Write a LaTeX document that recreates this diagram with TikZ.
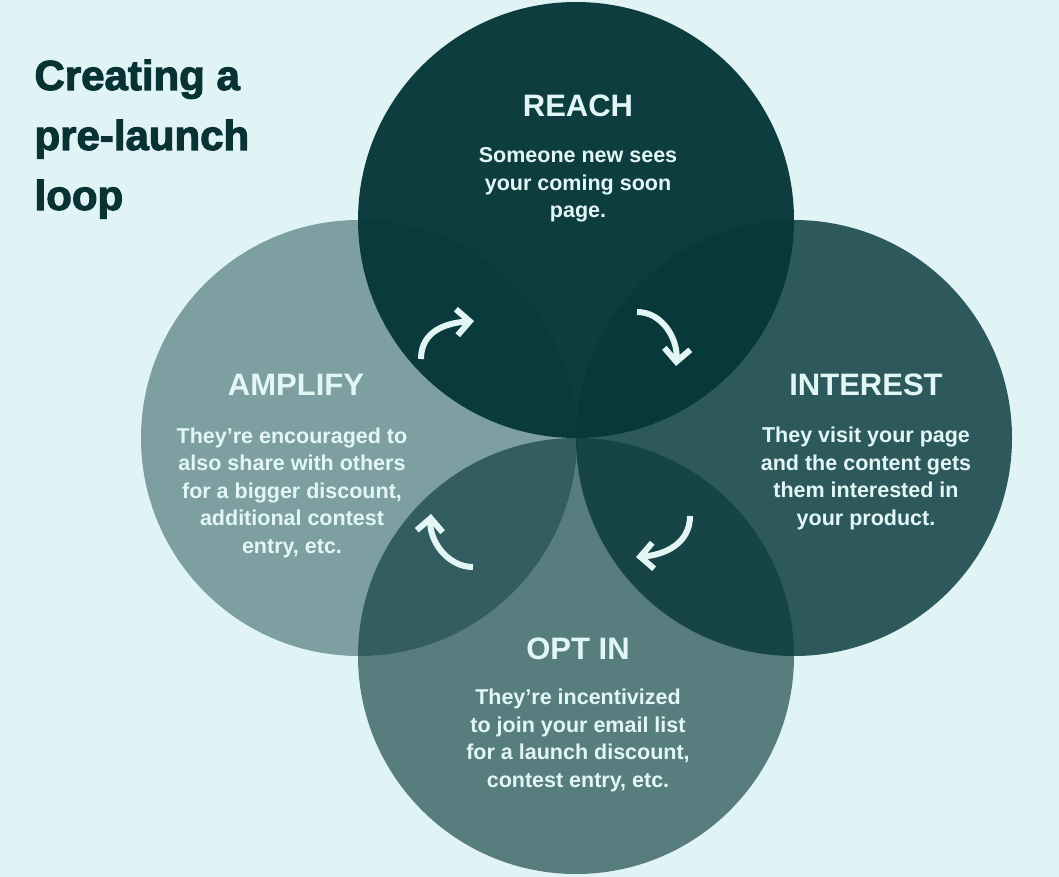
\documentclass[tikz,border=0pt]{standalone}
\usepackage{fontspec}
\setmainfont{Liberation Sans}
\usetikzlibrary{arrows.meta}
\definecolor{loopbg}{HTML}{E0F4F6}
\definecolor{loopteal}{HTML}{08383B}
\definecolor{looptext}{HTML}{E3F6F6}
\definecolor{looptitle}{HTML}{093235}

\begin{document}
\begin{tikzpicture}[
  x=1pt, y=-1pt,
  >={Straight Barb[length=13pt,width=26pt]},
  disc/.style={circle, minimum size=436pt, inner sep=0pt, fill=loopteal, draw=none},
  headline/.style={anchor=base west, align=left, text=looptitle, font=\fontsize{42}{60}\selectfont\bfseries\addfontfeature{FakeBold=2.5}},
  phase/.style={anchor=base, text=looptext, font=\fontsize{31}{36}\selectfont\bfseries},
  blurb/.style={anchor=base, align=center, text=looptext, font=\fontsize{21.5}{27.5}\selectfont\bfseries},
  turn/.style={->, draw=looptext, line width=6pt}
]
  \fill[loopbg] (0,0) rectangle (1059,877);
  \useasboundingbox (0,0) rectangle (1059,877);

  % the four stages
  \node[disc, fill opacity=0.97] (reach) at (576,220) {};
  \node[disc, fill opacity=0.82] (interest) at (794,438) {};
  \node[disc, fill opacity=0.63] (optin) at (576,656) {};
  \node[disc, fill opacity=0.45] (amplify) at (359,438) {};

  % base = last line
  \node[headline] (title) at (31,210) {Creating a\\pre-launch\\loop};

  \node[phase] (reachhead) at (578,117) {REACH};
  \node[blurb] (reachtext) at (578,218) {Someone new sees\\your coming soon\\page.};
  \node[phase] (interesthead) at (866,395) {INTEREST};
  \node[blurb] (interesttext) at (866,525) {They visit your page\\and the content gets\\them interested in\\your product.};
  \node[phase] (optinhead) at (578,659) {OPT IN};
  \node[blurb] (optintext) at (578,787) {They're incentivized\\to join your email list\\for a launch discount,\\contest entry, etc.};
  \node[phase] (amplifyhead) at (296,395) {AMPLIFY};
  \node[blurb] (amplifytext) at (292,553) {They're encouraged to\\also share with others\\for a bigger discount,\\additional contest\\entry, etc.};

  % loop arrows
  \coordinate (a1s) at (421,359);
  \coordinate (a1e) at (474,321);
  \coordinate (a2s) at (637,312);
  \coordinate (a2e) at (676,366);
  \coordinate (a3s) at (690,516);
  \coordinate (a3e) at (636,557);
  \coordinate (a4s) at (473,567);
  \coordinate (a4e) at (431,514);
  \draw[turn] (a1s) .. controls +(0,-28) and +(-28,2) .. (a1e);
  \draw[turn] (a2s) .. controls +(26,0) and +(2,-26) .. (a2e);
  \draw[turn] (a3s) .. controls +(0,28) and +(28,-2) .. (a3e);
  \draw[turn] (a4s) .. controls +(-26,0) and +(-2,26) .. (a4e);
\end{tikzpicture}
\end{document}
